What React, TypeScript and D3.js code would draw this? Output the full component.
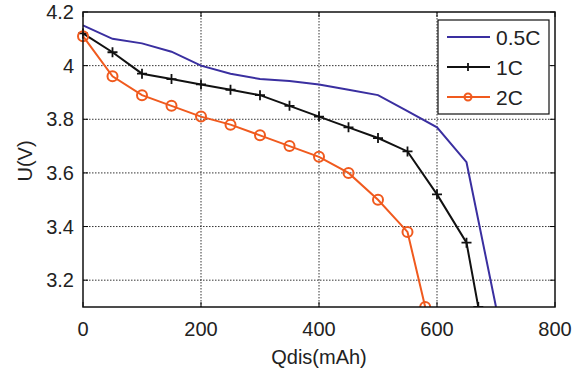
import React, { useEffect, useRef } from 'react';
import * as d3 from 'd3';

// discharge curves, Qdis (mAh) vs U (V)
const q05 = [0, 50, 100, 150, 200, 250, 300, 350, 400, 450, 500, 550, 600, 650, 700];
const u05 = [4.15, 4.1, 4.083, 4.052, 4.0, 3.97, 3.95, 3.943, 3.93, 3.91, 3.89, 3.83, 3.77, 3.64, 3.1];
const q1 = [0, 50, 100, 150, 200, 250, 300, 350, 400, 450, 500, 550, 600, 650, 670];
const u1 = [4.12, 4.05, 3.97, 3.95, 3.93, 3.91, 3.89, 3.85, 3.81, 3.77, 3.73, 3.68, 3.52, 3.34, 3.1];
const q2 = [0, 50, 100, 150, 200, 250, 300, 350, 400, 450, 500, 550, 580];
const u2 = [4.11, 3.96, 3.89, 3.85, 3.81, 3.78, 3.74, 3.7, 3.66, 3.6, 3.5, 3.38, 3.1];
const xTicks = [0, 200, 400, 600, 800];
const yTicks = [3.2, 3.4, 3.6, 3.8, 4.0, 4.2];
const yTickLabels = ['3.2', '3.4', '3.6', '3.8', '4', '4.2'];

const BLUE = '#3a2fa0';
const ORANGE = '#f05a1e';

export default function App() {
  const ref = useRef<SVGSVGElement>(null);

  useEffect(() => {
    const svg = d3.select(ref.current);
    svg.selectAll('*').remove();
    const margin = { top: 12, right: 23, bottom: 64, left: 83 };
    const w = 578 - margin.left - margin.right;
    const h = 371 - margin.top - margin.bottom;
    const g = svg.append('g').attr('transform', `translate(${margin.left},${margin.top})`);

    const x = d3.scaleLinear().domain([0, 800]).range([0, w]);
    const y = d3.scaleLinear().domain([3.1, 4.2]).range([h, 0]);
    const font = 'Liberation Sans, Arial, sans-serif';
    const fs = 20;

    // grid
    xTicks.slice(1, -1).forEach(t => {
      g.append('line').attr('x1', x(t)).attr('x2', x(t)).attr('y1', 0).attr('y2', h)
        .attr('stroke', '#000').attr('stroke-width', 0.8).attr('stroke-dasharray', '1.5,1.5');
    });
    yTicks.slice(0, -1).forEach(t => {
      g.append('line').attr('x1', 0).attr('x2', w).attr('y1', y(t)).attr('y2', y(t))
        .attr('stroke', '#000').attr('stroke-width', 0.8).attr('stroke-dasharray', '1.5,1.5');
    });

    // ticks inward on all sides
    const tl = 5;
    xTicks.forEach(t => {
      g.append('line').attr('x1', x(t)).attr('x2', x(t)).attr('y1', h).attr('y2', h - tl).attr('stroke', '#000');
      g.append('line').attr('x1', x(t)).attr('x2', x(t)).attr('y1', 0).attr('y2', tl).attr('stroke', '#000');
      g.append('text').attr('x', x(t)).attr('y', h + 29).attr('text-anchor', 'middle')
        .attr('font-family', font).attr('font-size', fs).attr('fill', '#222').text(String(t));
    });
    yTicks.forEach((t, i) => {
      g.append('line').attr('x1', 0).attr('x2', tl).attr('y1', y(t)).attr('y2', y(t)).attr('stroke', '#000');
      g.append('line').attr('x1', w).attr('x2', w - tl).attr('y1', y(t)).attr('y2', y(t)).attr('stroke', '#000');
      g.append('text').attr('x', -9).attr('y', y(t)).attr('dy', '0.36em').attr('text-anchor', 'end')
        .attr('font-family', font).attr('font-size', fs).attr('fill', '#222').text(yTickLabels[i]);
    });

    const clip = svg.append('defs').append('clipPath').attr('id', 'plotclip');
    clip.append('rect').attr('x', -8).attr('y', -8).attr('width', w + 16).attr('height', h + 8);

    const line = d3.line<[number, number]>().x(d => x(d[0])).y(d => y(d[1]));
    const pts = (qs: number[], us: number[]) => qs.map((q, i) => [q, us[i]] as [number, number]);

    const plot = g.append('g').attr('clip-path', 'url(#plotclip)');

    plot.append('path').datum(pts(q05, u05)).attr('fill', 'none').attr('stroke', BLUE)
      .attr('stroke-width', 2).attr('d', line);

    plot.append('path').datum(pts(q1, u1)).attr('fill', 'none').attr('stroke', '#111')
      .attr('stroke-width', 2).attr('d', line);
    pts(q1, u1).forEach(d => {
      plot.append('path').attr('d', `M${x(d[0]) - 5},${y(d[1])}h10M${x(d[0])},${y(d[1]) - 5}v10`)
        .attr('stroke', '#111').attr('stroke-width', 1.8);
    });

    plot.append('path').datum(pts(q2, u2)).attr('fill', 'none').attr('stroke', ORANGE)
      .attr('stroke-width', 2).attr('d', line);
    pts(q2, u2).forEach(d => {
      plot.append('circle').attr('cx', x(d[0])).attr('cy', y(d[1])).attr('r', 5)
        .attr('fill', 'none').attr('stroke', ORANGE).attr('stroke-width', 2);
    });

    // frame
    g.append('rect').attr('width', w).attr('height', h).attr('fill', 'none')
      .attr('stroke', '#111').attr('stroke-width', 1.5);

    // axis labels
    g.append('text').attr('x', w / 2).attr('y', h + 57).attr('text-anchor', 'middle')
      .attr('font-family', font).attr('font-size', fs).attr('fill', '#222').text('Qdis(mAh)');
    svg.append('text').attr('transform', 'translate(32,161) rotate(-90)').attr('text-anchor', 'middle')
      .attr('font-family', font).attr('font-size', fs).attr('fill', '#222').text('U(V)');

    // legend
    const lg = svg.append('g').attr('transform', 'translate(438,20)');
    lg.append('rect').attr('width', 111).attr('height', 94).attr('fill', '#fff')
      .attr('stroke', '#111').attr('stroke-width', 1.2);
    const items = [
      { label: '0.5C', color: BLUE, mark: 'none' },
      { label: '1C', color: '#111', mark: 'plus' },
      { label: '2C', color: ORANGE, mark: 'circle' },
    ];
    items.forEach((it, i) => {
      const yy = 17 + i * 30;
      lg.append('line').attr('x1', 9).attr('x2', 52).attr('y1', yy).attr('y2', yy)
        .attr('stroke', it.color).attr('stroke-width', 2);
      if (it.mark === 'plus') {
        lg.append('path').attr('d', `M30,${yy - 4}v8M26,${yy}h8`).attr('stroke', it.color).attr('stroke-width', 1.8);
      } else if (it.mark === 'circle') {
        lg.append('circle').attr('cx', 30).attr('cy', yy).attr('r', 3.5).attr('fill', 'none')
          .attr('stroke', it.color).attr('stroke-width', 2);
      }
      lg.append('text').attr('x', 58).attr('y', yy).attr('dy', '0.36em')
        .attr('font-family', font).attr('font-size', 21).attr('fill', '#222').text(it.label);
    });
  }, []);

  return <svg ref={ref} width={578} height={371} style={{ position: 'absolute', left: 0, top: 0 }} />;
}
